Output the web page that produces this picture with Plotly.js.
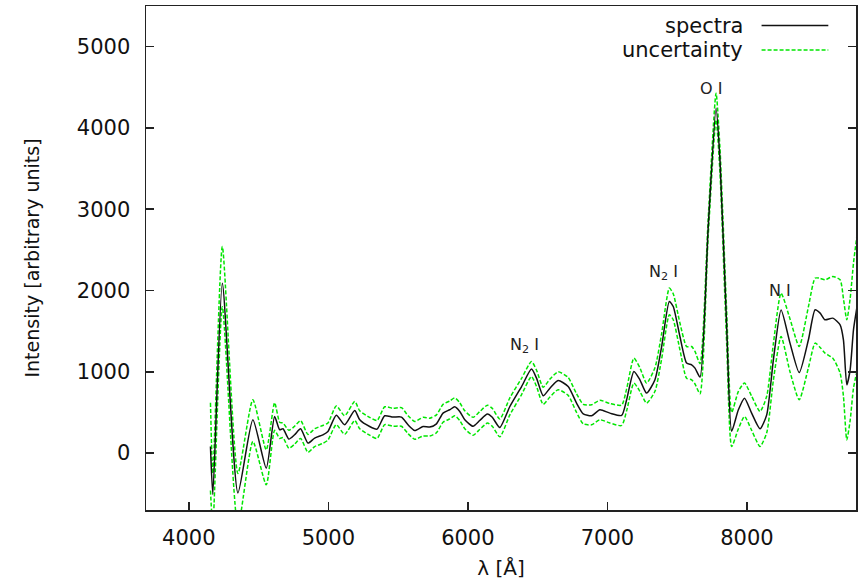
<!DOCTYPE html>
<html><head><meta charset="utf-8">
<script src="https://cdn.plot.ly/plotly-3.0.1.min.js"></script>
<style>html,body{margin:0;padding:0;background:#fff}#chart{width:862px;height:585px}</style>
</head><body><div id="chart"></div>
<script>
// wavelength in Angstrom
const wavelength = [4155,4172,4240,4352,4459,4555,4615,4651,4675,4717,4758,4801,4854,4902,4961,4997,
  5057,5117,5189,5225,5296,5349,5404,5463,5524,5571,5619,5679,5727,5775,5822,5870,5906,5942,5978,
  6037,6085,6140,6175,6229,6301,6385,6456,6492,6540,6588,6647,6719,6779,6827,6887,6946,7018,7102,
  7138,7190,7233,7281,7341,7389,7444,7472,7520,7568,7604,7628,7664,7723,7779,7807,7855,7891,7939,
  7983,8034,8094,8142,8190,8245,8309,8375,8441,8489,8525,8560,8616,8668,8692,8716,8740,8764,8788];
const spectra = [80,-510,2090,-490,410,-185,450,287,299,172,225,299,123,185,225,266,
  465,348,524,410,327,295,459,443,443,348,278,327,320,360,492,533,570,512,410,
  330,401,480,440,315,573,819,1033,922,705,799,893,819,615,483,459,533,492,463,
  656,1004,902,738,902,1311,1865,1803,1434,1107,1086,1045,935,2787,4243,3607,1557,270,533,
  676,492,300,470,1150,1760,1353,990,1394,1763,1722,1640,1660,1578,1394,840,1025,1517,1787];
const upper = [620,-250,2540,-250,655,40,620,380,370,280,330,400,230,300,340,370,
  580,460,635,520,440,400,570,550,560,460,390,440,430,470,600,640,680,620,520,
  440,510,590,550,420,680,920,1127,1020,810,910,1000,930,730,600,594,650,610,590,
  790,1168,1050,861,1050,1470,2030,1960,1600,1311,1311,1250,1100,2900,4428,3750,1750,500,760,
  861,700,512,700,1350,1967,1650,1311,1800,2152,2150,2132,2172,2132,1900,1640,1900,2337,2664];
const lower = [-460,-900,1800,-900,143,-390,280,180,190,60,110,180,10,80,120,160,
  350,230,401,300,220,180,350,330,330,240,170,210,210,250,380,420,460,400,300,
  220,290,370,330,200,470,720,942,820,600,690,780,710,500,360,348,410,370,340,
  520,861,760,615,760,1160,1701,1640,1270,920,902,850,730,2680,4100,3450,1350,80,300,
  451,280,82,250,900,1434,1000,656,1050,1353,1300,1230,1168,984,700,164,400,800,1000];

const lineLabels = ['N<sub>2</sub> I','N<sub>2</sub> I','O I','N I'];
const labelLambda = [6408,7405,7740,8234];
const labelIntensity = [1325,2224,4481,2003];

const legendNames = ['spectra','uncertainty'];
const FONT = 'DejaVu Sans, sans-serif';
const GREEN = 'rgb(0,230,0)';

const traces = [
  {x: wavelength, y: upper, type:'scatter', mode:'lines', name:'uncertainty',
   line:{color:GREEN, width:1.5, dash:'4px,2px', shape:'spline', smoothing:0.6}, showlegend:false},
  {x: wavelength, y: lower, type:'scatter', mode:'lines', name:'uncertainty (lower)',
   line:{color:GREEN, width:1.5, dash:'4px,2px', shape:'spline', smoothing:0.6}, showlegend:false},
  {x: wavelength, y: spectra, type:'scatter', mode:'lines', name:'spectra',
   line:{color:'#111', width:1.5, shape:'spline', smoothing:0.6}, showlegend:false}
];

const annotations = lineLabels.map((t,i)=>({
  x: labelLambda[i], y: labelIntensity[i], xref:'x', yref:'y', text:t, showarrow:false,
  font:{family:FONT, size:16, color:'#222'}, xanchor:'center', yanchor:'middle'
}));
// legend (text left of sample, as in reference)
const legY = [0.9613, 0.9126];
legendNames.forEach((n,i)=>{
  annotations.push({x:0.8435, y:legY[i], xref:'paper', yref:'paper', text:n, showarrow:false,
    xanchor:'right', yanchor:'middle', font:{family:FONT, size:21, color:'#111'}});
});
const shapes = [
  {type:'line', xref:'paper', yref:'paper', x0:0.867, x1:0.961, y0:legY[0], y1:legY[0],
   line:{color:'#111', width:1.5}},
  {type:'line', xref:'paper', yref:'paper', x0:0.867, x1:0.961, y0:legY[1], y1:legY[1],
   line:{color:GREEN, width:1.5, dash:'4px,2px'}}
];

const layout = {
  width:862, height:585,
  margin:{l:146, r:6, t:6, b:75},
  paper_bgcolor:'#fff', plot_bgcolor:'#fff',
  showlegend:false,
  font:{family:FONT, size:21, color:'#111'},
  xaxis:{range:[3693,8782], tick0:4000, dtick:1000, ticks:'inside', ticklen:8, tickwidth:1.5,
    tickcolor:'#222', showline:true, linecolor:'#222', linewidth:1.5, mirror:true,
    showgrid:false, zeroline:false, ticklabelstandoff:8,
    tickfont:{family:FONT, size:21, color:'#111'},
    title:{text:'λ [Å]', font:{family:FONT, size:20, color:'#111'}, standoff:12}},
  yaxis:{range:[-700,5500], tick0:0, dtick:1000, ticks:'inside', ticklen:8, tickwidth:1.5,
    tickcolor:'#222', showline:true, linecolor:'#222', linewidth:1.5, mirror:'ticks',
    showgrid:false, zeroline:false, ticklabelstandoff:10,
    tickfont:{family:FONT, size:21, color:'#111'},
    title:{text:'Intensity [arbitrary units]', font:{family:FONT, size:19, color:'#111'}, standoff:32}},
  annotations: annotations,
  shapes: shapes
};
Plotly.newPlot('chart', traces, layout, {displayModeBar:false, staticPlot:true});
</script></body></html>
